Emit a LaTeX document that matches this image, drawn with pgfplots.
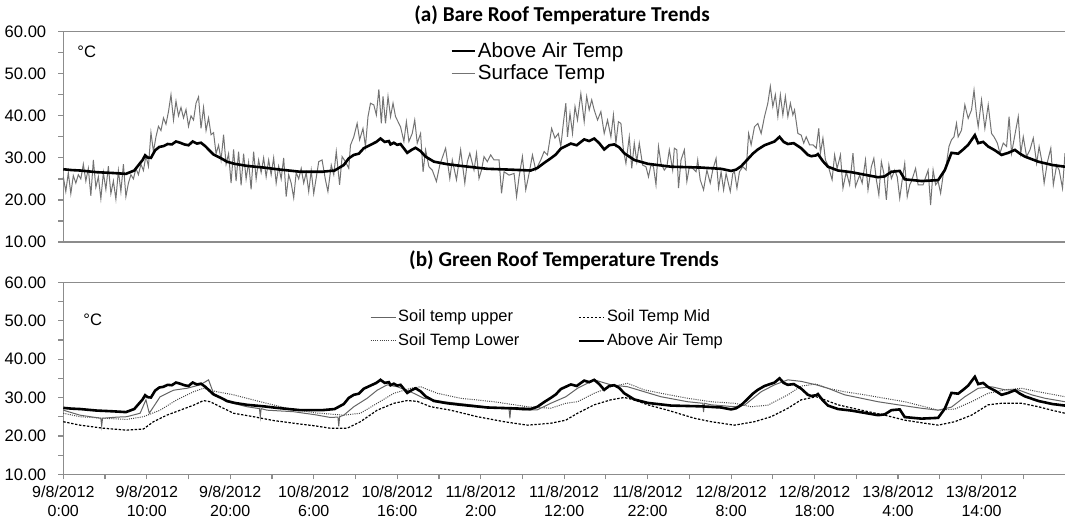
\documentclass[border=0pt]{standalone}
\usepackage{pgfplots}
\pgfplotsset{compat=1.18}
\usepackage{pgfplotstable}
\usepackage{fontspec}
\setmainfont{Liberation Sans}
\newfontfamily\titlefont{Carlito}
\definecolor{axisgray}{RGB}{140,140,140}
\definecolor{surfgray}{RGB}{115,115,115}
\definecolor{uppergray}{RGB}{100,100,100}
\definecolor{lowergray}{RGB}{70,70,70}

\pgfplotstableread{
h T
0 27.3
1 27.1
2 27.0
3 26.8
4 26.6
5 26.5
6 26.4
7.5 26.2
8.5 27.0
9.5 29.5
9.8 30.6
10.1 30.1
10.5 30.0
11 31.8
11.5 32.6
12 32.8
12.5 33.3
13 33.2
13.5 33.9
14 33.6
14.5 33.2
15 33.0
15.5 33.9
16 33.4
16.5 33.6
17 32.8
17.5 31.8
18 30.8
18.5 30.3
19 29.8
19.6 29.1
20.5 28.6
22 28.1
24 27.7
25.6 27.3
28.4 26.7
31 26.7
32.5 27.0
33.6 28.3
34.2 29.9
34.8 30.7
35.4 31.0
36 32.3
36.5 32.8
37 33.3
37.5 33.8
38 34.6
38.5 33.8
39 34.0
39.2 33.2
39.6 33.6
40 33.1
40.4 33.3
41.2 31.2
41.8 32.0
42.2 32.4
42.8 31.6
43.4 30.3
44.4 29.1
46 28.5
47.6 28.1
50.8 27.4
53.6 27.2
56 27.0
56.8 27.6
57.6 28.8
58.4 29.9
59 30.8
59.6 32.2
60.2 32.8
60.8 33.4
61.5 33.0
62.4 34.4
63 34.0
63.6 34.6
64.2 33.5
64.8 32.0
65.4 33.0
66 33.2
66.6 32.5
67.2 31.1
68.4 29.5
70 28.6
72.8 27.9
76.4 27.7
78.8 27.4
80 26.9
80.6 27.2
81.2 28.0
82 29.7
82.6 31.0
83.2 32.0
84 33.0
85.2 33.9
85.8 35.0
86.3 33.8
86.8 33.3
87.5 33.5
88.4 32.3
89.2 30.7
89.6 30.4
90.2 30.6
90.4 30.9
91 29.2
91.6 27.9
92.8 27.0
94.4 26.6
96 26.0
97.6 25.4
98.4 25.6
99.2 26.7
100.2 26.9
100.8 24.9
102.8 24.5
104.8 24.7
105.6 27.1
106.4 31.2
107.2 31.0
107.8 32.0
108.4 33.1
109.2 35.4
109.6 33.5
110.2 33.8
110.8 32.7
111.6 31.8
112.4 30.7
113.2 31.2
114 31.9
114.6 31.0
115.2 30.3
116.8 29.1
118.5 28.3
120 27.9
}\airdata

\pgfplotstableread{
h T
0.0 25.5
0.3 22.0
0.6 26.5
0.9 21.5
1.2 25.8
1.5 24.0
1.8 26.0
2.1 25.0
2.4 28.5
2.7 24.5
3.0 27.5
3.3 21.0
3.6 29.5
3.9 23.0
4.2 25.5
4.5 20.3
4.8 26.5
5.1 22.5
5.4 28.0
5.7 21.5
6.0 24.5
6.3 20.2
6.6 27.0
6.9 22.0
7.2 28.5
7.5 20.8
7.8 24.0
8.1 26.0
8.4 25.0
8.7 27.5
9.0 26.0
9.3 28.5
9.6 27.0
9.9 30.5
10.2 28.0
10.5 36.0
10.8 31.5
11.1 35.0
11.4 37.5
11.7 36.5
12.0 39.5
12.3 38.0
12.6 41.0
12.9 45.0
13.2 39.0
13.5 43.5
13.8 40.0
14.1 42.0
14.4 39.5
14.7 41.5
15.0 37.5
15.3 40.0
15.6 39.0
15.9 43.0
16.2 44.5
16.5 37.0
16.8 42.0
17.1 36.5
17.4 39.5
17.7 35.5
18.0 36.0
18.3 31.0
18.6 33.0
18.9 29.5
19.2 35.5
19.5 28.5
19.8 31.0
20.1 24.0
20.4 32.0
20.7 24.5
21.0 31.5
21.3 23.5
21.6 31.0
21.9 25.0
22.2 29.0
22.5 22.5
22.8 31.5
23.1 25.0
23.4 29.5
23.7 26.5
24.0 30.0
24.3 25.5
24.6 29.5
24.9 26.0
25.2 30.0
25.5 24.0
25.8 28.0
26.1 25.0
26.4 30.0
26.7 20.8
27.0 26.0
27.3 24.0
27.6 20.5
27.9 26.5
28.2 25.0
28.5 27.5
28.8 24.0
29.1 26.5
29.4 22.0
29.7 27.0
30.0 21.5
30.6 29.1
31.0 29.5
31.4 24.8
31.7 22.0
32.1 28.3
32.4 26.0
32.7 31.5
33.1 23.6
33.4 30.3
33.8 29.1
34.2 27.5
34.4 33.0
34.8 35.0
35.2 38.2
35.5 34.3
35.9 37.0
36.2 32.7
36.5 39.8
36.8 43.0
37.2 42.6
37.5 40.2
37.8 46.3
38.1 38.2
38.3 44.6
38.6 38.2
38.9 44.6
39.2 39.8
39.5 43.0
39.8 39.8
40.1 38.6
40.4 37.4
40.8 33.9
41.1 38.6
41.4 33.9
41.8 35.8
42.1 39.0
42.4 33.5
42.8 35.8
43.1 26.7
43.4 31.9
43.8 27.9
44.2 27.1
44.7 24.4
45.1 28.3
45.8 32.3
46.3 25.1
46.6 29.5
47.1 24.8
47.6 31.9
48.1 24.0
48.4 29.1
48.7 31.1
49.2 27.1
49.5 31.1
49.8 25.1
50.1 27.1
50.4 30.3
50.8 29.1
51.2 30.7
51.6 29.5
52.2 29.5
52.5 21.6
52.8 26.7
53.4 25.9
54.0 26.3
54.3 20.8
54.6 25.5
55.0 30.3
55.4 22.4
55.8 26.3
56.2 30.7
56.6 27.1
57.2 29.5
57.6 31.5
58.0 30.7
58.5 37.0
58.9 34.7
59.3 35.8
59.6 32.7
59.9 38.2
60.2 43.0
60.4 35.0
60.7 40.6
61.0 35.8
61.3 42.2
61.6 39.0
62.0 45.3
62.4 38.6
62.7 44.6
63.0 41.4
63.3 43.8
63.6 41.4
64.0 39.0
64.4 41.0
64.8 35.8
65.2 39.0
65.6 35.0
65.9 40.2
66.2 33.5
66.5 38.6
66.8 38.2
67.1 31.9
67.4 28.7
67.8 35.0
68.1 27.5
68.4 33.5
68.7 29.1
69.0 33.5
69.4 28.3
69.8 27.9
70.1 25.5
70.4 28.3
70.7 27.9
71.0 23.6
71.3 32.7
71.6 28.7
72.0 27.1
72.3 27.9
72.6 31.9
73.0 27.1
73.2 32.3
73.5 31.9
73.7 22.8
74.0 29.5
74.4 31.9
74.7 24.4
75.0 27.9
75.4 27.5
75.8 26.7
76.0 29.5
76.3 24.8
76.7 22.4
77.1 27.1
77.5 24.0
77.8 27.1
78.2 29.9
78.5 22.8
78.8 26.7
79.1 22.4
79.4 26.3
79.9 22.0
80.2 26.3
80.4 26.7
80.7 22.8
81.0 26.7
81.4 27.9
81.8 27.1
82.1 35.8
82.4 33.1
82.8 37.4
83.2 38.2
83.6 35.8
84.0 39.8
84.4 43.0
84.7 47.0
85.0 42.2
85.3 45.0
85.6 39.8
85.9 45.0
86.2 40.2
86.5 44.6
86.8 39.8
87.1 43.0
87.4 40.2
87.6 41.4
88.0 35.8
88.4 35.4
88.7 33.5
89.0 35.0
89.4 33.1
89.8 33.1
90.2 32.3
90.5 37.0
90.7 31.1
91.0 34.7
91.3 29.5
91.6 28.3
92.1 24.8
92.4 30.7
92.7 27.5
93.1 30.7
93.4 22.8
93.8 26.7
94.2 23.6
94.6 31.1
94.9 23.2
95.4 25.9
95.7 24.0
96.1 29.5
96.4 22.4
96.8 27.9
97.1 29.9
97.4 24.8
97.7 21.2
98.0 29.1
98.3 26.3
98.6 20.0
98.9 28.3
99.2 25.1
99.6 27.1
99.9 25.5
100.2 20.4
100.5 24.8
100.8 28.7
101.1 20.8
101.4 23.6
101.6 24.4
102.1 27.5
102.4 23.6
103.0 23.6
103.6 27.1
103.9 18.8
104.2 27.1
104.5 23.6
104.8 24.4
105.1 21.6
105.4 25.9
105.8 28.7
106.1 32.7
106.4 34.3
106.7 35.0
107.0 38.2
107.2 35.0
107.6 36.6
108.0 42.6
108.4 39.4
108.8 41.4
109.1 46.1
109.4 40.2
109.6 37.4
110.0 43.8
110.4 37.0
110.8 42.6
111.2 35.8
111.5 35.0
111.9 33.5
112.2 31.1
112.6 33.5
113.0 32.7
113.3 39.8
113.6 31.1
114.1 36.6
114.4 39.8
114.7 31.1
115.0 35.0
115.4 30.3
115.8 31.9
116.2 34.7
116.6 28.7
116.9 32.7
117.2 29.5
117.5 24.0
117.9 29.1
118.3 32.3
118.6 23.6
119.0 28.3
119.3 27.1
119.7 22.8
120.0 31.1
}\surfdata

\pgfplotstableread{
h T
0 26.7
2.0 25.4
4.5 24.6
4.6 22.6
4.7 24.6
6.5 24.9
7.6 25.0
9.2 25.9
9.9 29.4
10.3 25.9
11.6 30.2
13.2 31.9
14.8 32.4
16.4 33.3
17.4 34.6
18.0 31.1
19.6 28.9
22.0 27.6
23.5 27.1
23.6 25.0
23.7 27.1
24.4 26.7
27.6 26.3
30.2 25.5
32.0 24.8
32.9 24.9
33.0 22.5
33.1 25.0
33.6 25.4
34.8 27.6
36.4 29.8
37.6 31.9
38.8 33.3
40.0 32.8
41.6 31.5
43.2 29.8
45.6 28.9
48.8 28.1
52.0 27.2
53.4 27.0
53.5 24.6
53.6 27.0
55.2 26.7
56.8 26.8
58.4 28.5
60.2 30.2
61.6 32.4
63.6 34.6
65.6 33.3
67.6 32.8
69.6 31.5
71.6 30.2
74.8 28.9
76.6 28.5
76.7 26.2
76.8 28.5
77.6 28.1
80.4 27.6
81.6 28.0
83.6 31.5
85.2 33.3
86.8 34.6
88.4 34.2
90.2 33.3
91.6 32.4
93.6 30.7
95.6 29.8
97.6 28.9
100.0 28.1
102.8 27.2
104.8 26.7
106.4 27.5
108.0 30.2
109.6 32.4
111.2 32.8
112.8 32.0
114.4 32.0
116.0 30.7
117.6 29.8
120.0 28.9
}\upperdata

\pgfplotstableread{
h T
0 23.7
2.0 22.8
4.8 22.0
7.6 21.5
9.6 21.8
10.8 23.7
12.4 25.4
14.0 26.7
15.6 28.0
16.8 29.2
17.6 28.9
18.8 27.6
20.4 25.9
22.8 25.0
25.2 24.0
27.6 23.3
30.2 22.6
32.0 22.0
34.0 22.0
35.6 23.7
37.6 26.7
39.6 28.5
41.2 29.2
42.4 29.0
44.0 27.6
46.4 26.7
49.6 25.0
52.8 23.7
55.6 22.8
58.4 23.3
60.2 24.1
61.6 25.9
63.6 28.1
65.6 29.4
67.2 30.0
68.4 29.4
70.0 28.1
72.4 26.7
75.6 24.6
77.6 23.7
80.4 22.8
82.8 23.7
84.8 25.0
86.8 27.2
88.4 29.4
90.2 30.2
91.2 29.4
92.8 28.1
95.6 26.7
98.4 25.4
100.8 24.1
103.2 23.3
104.8 22.8
106.8 23.7
108.8 25.4
110.8 28.1
112.4 28.5
114.8 28.5
116.8 27.6
118.4 26.7
120.0 25.9
}\middata

\pgfplotstableread{
h T
0 25.9
2.0 25.0
4.8 24.6
7.6 24.3
9.6 25.0
11.6 26.7
13.6 29.4
15.6 31.5
16.8 32.4
18.4 31.5
20.4 30.7
23.6 28.9
26.8 27.2
30.2 26.0
33.6 25.4
35.6 25.9
37.6 28.5
39.6 31.1
41.6 32.4
42.8 32.8
44.8 31.1
47.6 29.8
51.6 28.9
55.6 27.6
58.4 27.2
60.2 28.5
61.6 28.9
63.6 31.1
65.6 32.8
67.6 33.7
69.6 32.0
71.6 31.1
74.8 29.8
77.6 28.9
80.4 28.5
82.4 27.6
84.4 28.0
86.8 30.7
88.4 33.0
90.2 33.5
91.6 32.4
93.6 31.5
96.0 30.7
98.4 29.8
100.8 28.9
103.2 27.6
104.8 26.7
106.8 27.0
108.8 28.9
110.8 31.1
112.8 32.0
114.8 32.4
116.8 31.5
120.0 30.2
}\lowerdata

\pgfplotsset{
  panel/.style={
    scale only axis, width=500.85pt,
    xmin=0, xmax=120, ymin=10, ymax=60,
    axis x line*=bottom, axis y line*=left,
    axis line style={axisgray, line width=0.6pt, -},
    ytick={10,20,30,40,50,60}, minor ytick={15,25,35,45,55},
    tick align=outside, major tick length=2.5pt, minor tick length=2.5pt,
    every tick/.style={axisgray, line width=0.6pt},
    /pgf/number format/assume math mode=true,
    yticklabel style={font=\fontsize{8.3}{9}\selectfont, xshift=-2.5pt, /pgf/number format/.cd, fixed, fixed zerofill, precision=2},
    clip=false,
  },
}

\begin{document}
\begin{tikzpicture}
\path[use as bounding box] (0pt,0pt) rectangle (532.5pt,-260pt);

% top panel
\begin{axis}[panel, at={(31.65pt,-15.85pt)}, anchor=north west, height=105.15pt,
  xtick=\empty,
  legend style={at={(axis description cs:0.386,0.962)}, anchor=north west, draw=none, fill=none,
    font=\fontsize{10.3}{12}\selectfont, inner sep=0pt, row sep=0.5pt,
    nodes={inner sep=1pt}},
  legend cell align=left,
  legend image code/.code={\draw[#1] (0pt,0pt) -- (11.5pt,0pt);},
]
\addlegendimage{black, line width=1.3pt}
\addlegendentry{Above Air Temp}
\addlegendimage{surfgray, line width=0.5pt}
\addlegendentry{Surface Temp}
\addplot[surfgray, line width=0.5pt, forget plot] table[x=h, y=T] {\surfdata};
\addplot[black, line width=1.3pt, forget plot] table[x=h, y=T] {\airdata};
\draw[axisgray, line width=0.6pt] (rel axis cs:0,1) -- (rel axis cs:1,1);
\end{axis}

% bottom panel
\begin{axis}[panel, at={(31.65pt,-141.15pt)}, anchor=north west, height=96pt,
  xtick={0,10,20,30,40,50,60,70,80,90,100,110},
  minor xtick={5,15,25,35,45,55,65,75,85,95,105,115},
  xticklabels={{9/8/2012\\0:00},{9/8/2012\\10:00},{9/8/2012\\20:00},{10/8/2012\\6:00},{10/8/2012\\16:00},{11/8/2012\\2:00},{11/8/2012\\12:00},{11/8/2012\\22:00},{12/8/2012\\8:00},{12/8/2012\\18:00},{13/8/2012\\4:00},{13/8/2012\\14:00}},
  xticklabel style={font=\fontsize{8}{9.4}\selectfont, align=center},
  legend columns=2,
  legend style={at={(axis description cs:0.306,0.87)}, anchor=north west, draw=none, fill=none,
    font=\fontsize{8.2}{9.8}\selectfont, inner sep=0pt, row sep=2.5pt,
    nodes={inner sep=1pt},
    /tikz/every even column/.append style={column sep=28pt}},
  legend cell align=left,
  legend image code/.code={\draw[#1] (0pt,0pt) -- (12.5pt,0pt);},
]
\addlegendimage{uppergray, line width=0.5pt}
\addlegendentry{Soil temp upper}
\addlegendimage{black, line width=0.6pt, dash pattern=on 1.2pt off 0.8pt}
\addlegendentry{Soil Temp Mid}
\addlegendimage{lowergray, line width=0.5pt, dash pattern=on 0.5pt off 0.6pt}
\addlegendentry{Soil Temp Lower}
\addlegendimage{black, line width=1.3pt}
\addlegendentry{Above Air Temp}
\addplot[black, line width=0.6pt, dash pattern=on 1.2pt off 0.8pt, forget plot] table[x=h, y=T] {\middata};
\addplot[lowergray, line width=0.5pt, dash pattern=on 0.5pt off 0.6pt, forget plot] table[x=h, y=T] {\lowerdata};
\addplot[uppergray, line width=0.5pt, forget plot] table[x=h, y=T] {\upperdata};
\addplot[black, line width=1.3pt, forget plot] table[x=h, y=T] {\airdata};
\draw[axisgray, line width=0.6pt] (rel axis cs:0,1) -- (rel axis cs:1,1);
\end{axis}

% titles and unit labels
\node[anchor=base, font=\titlefont\bfseries\fontsize{10.6}{12}\selectfont] at (281pt,-10.85pt) {(a) Bare Roof Temperature Trends};
\node[anchor=base, font=\titlefont\bfseries\fontsize{10.6}{12}\selectfont] at (282pt,-133.35pt) {(b) Green Roof Temperature Trends};
\node[anchor=west, inner sep=0pt, font=\fontsize{8.3}{9}\selectfont] at (38.5pt,-25.85pt) {°C};
\node[anchor=west, inner sep=0pt, font=\fontsize{8.3}{9}\selectfont] at (41.5pt,-160pt) {°C};
\end{tikzpicture}
\end{document}
